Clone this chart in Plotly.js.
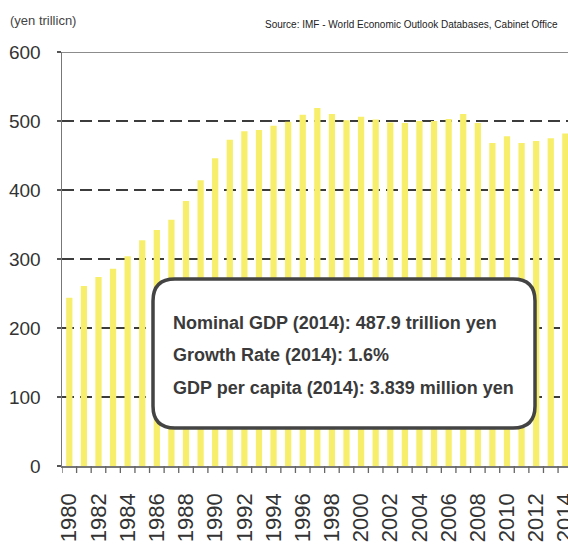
<!DOCTYPE html>
<html>
<head>
<meta charset="utf-8">
<script src="https://cdn.plot.ly/plotly-3.0.1.min.js"></script>
<style>html,body{margin:0;padding:0;background:#fff;}#chart{width:568px;height:547px;}</style>
</head>
<body>
<div id="chart"></div>
<script>
// ---- data ----
const years = [1980,1981,1982,1983,1984,1985,1986,1987,1988,1989,
               1990,1991,1992,1993,1994,1995,1996,1997,1998,1999,
               2000,2001,2002,2003,2004,2005,2006,2007,2008,2009,
               2010,2011,2012,2013,2014];
const gdp = [244,261,274,286,304,327,342,357,384,414,
             446,473,485,487,493,499,509,519,510,501,
             506,502,498,497,500,500,503,510,497,468,
             478,468,471,475,482];
const yTicks = [0,100,200,300,400,500,600];
const infoLines = [
  "Nominal GDP (2014): 487.9 trillion yen",
  "Growth Rate (2014): 1.6%",
  "GDP per capita (2014): 3.839 million yen"
];
const unitLabel = "(yen trillicn)";
const sourceLabel = "Source: IMF - World Economic Outlook Databases, Cabinet Office";

// ---- layout geometry (pixels) ----
const W = 568, H = 547;
const L = 62, R = 0, T = 52, B = 81;
const pw = W - L - R, ph = H - T - B;
const px = x => (x - L) / pw;
const py = y => (H - B - y) / ph;

function roundRect(x0, y0, x1, y1, r) {
  const rx = r / pw, ry = r / ph;
  const X0 = px(x0), X1 = px(x1), Y0 = py(y0), Y1 = py(y1);
  return `M ${X0+rx},${Y0} L ${X1-rx},${Y0} Q ${X1},${Y0} ${X1},${Y0-ry} ` +
         `L ${X1},${Y1+ry} Q ${X1},${Y1} ${X1-rx},${Y1} ` +
         `L ${X0+rx},${Y1} Q ${X0},${Y1} ${X0},${Y1+ry} ` +
         `L ${X0},${Y0-ry} Q ${X0},${Y0} ${X0+rx},${Y0} Z`;
}

const sans = "'Liberation Sans', Arial, sans-serif";
const textColor = "#3a3a3a";

const trace = {
  type: 'bar',
  x: years,
  y: gdp,
  marker: {color: '#f7ef6c', line: {width: 0}},
  hoverinfo: 'skip'
};

const lineY = [323, 355, 388];
const annotations = infoLines.map((t, i) => ({
  xref: 'paper', yref: 'paper', x: px(171), y: py(lineY[i]),
  xanchor: 'left', yanchor: 'middle', showarrow: false, align: 'left',
  text: t, font: {family: sans, size: 18, color: textColor, weight: 'bold'}
}));
annotations.push({
  xref: 'paper', yref: 'paper', x: px(8), y: py(20),
  xanchor: 'left', yanchor: 'middle', showarrow: false,
  text: unitLabel, font: {family: sans, size: 13, color: '#444'}
});
annotations.push({
  xref: 'paper', yref: 'paper', x: px(560), y: py(25),
  xanchor: 'right', yanchor: 'middle', showarrow: false,
  text: sourceLabel, font: {family: sans, size: 10, color: '#222'}
});

const xRange = [1979.5, 1979.5 + pw / 14.59];
const boundaries = years.map(v => v - 0.5).concat([years[years.length - 1] + 0.5]);

// category-boundary tick marks below the x axis (Excel style)
const tickShapes = boundaries.map(b => ({
  type: 'line', xref: 'x', yref: 'paper', x0: b, x1: b, y0: 0, y1: -7 / ph,
  line: {color: '#666', width: 1.3}, layer: 'above'
}));

const layout = {
  width: W, height: H,
  margin: {l: L, r: R, t: T, b: B, pad: 0},
  paper_bgcolor: '#fff', plot_bgcolor: '#fff',
  showlegend: false,
  bargap: 0.57,
  xaxis: {
    type: 'linear',
    range: xRange,
    tickmode: 'linear', tick0: 1980, dtick: 2,
    tickangle: -90,
    ticks: 'outside', ticklen: 7, tickcolor: 'rgba(0,0,0,0)',
    ticklabelstandoff: 10,
    ticklabeloverflow: 'allow',
    tickfont: {family: sans, size: 22, color: '#333'},
    showline: true, linecolor: '#777', linewidth: 1.5,
    showgrid: false, zeroline: false, fixedrange: true
  },
  yaxis: {
    range: [0, 600],
    tickmode: 'array', tickvals: yTicks, ticktext: yTicks.map(String),
    ticks: 'outside', ticklen: 4, tickcolor: '#555', tickwidth: 1.3,
    ticklabelstandoff: 12,
    tickfont: {family: sans, size: 19, color: '#333'},
    showline: true, linecolor: '#777', linewidth: 1.5,
    showgrid: true, gridcolor: '#3c3c3c', gridwidth: 1.3, griddash: '12px,6px',
    zeroline: false, fixedrange: true
  },
  shapes: [
    {type: 'line', xref: 'paper', yref: 'y', x0: 0, x1: 1, y0: 600, y1: 600,
     line: {color: '#666', width: 1.6}},
    {type: 'path', xref: 'paper', yref: 'paper', layer: 'above',
     path: roundRect(153, 279, 535, 428, 22),
     fillcolor: '#fff', line: {color: '#444', width: 3.5}}
  ].concat(tickShapes),
  annotations: annotations
};

Plotly.newPlot('chart', [trace], layout, {displayModeBar: false, staticPlot: true});
</script>
</body>
</html>
